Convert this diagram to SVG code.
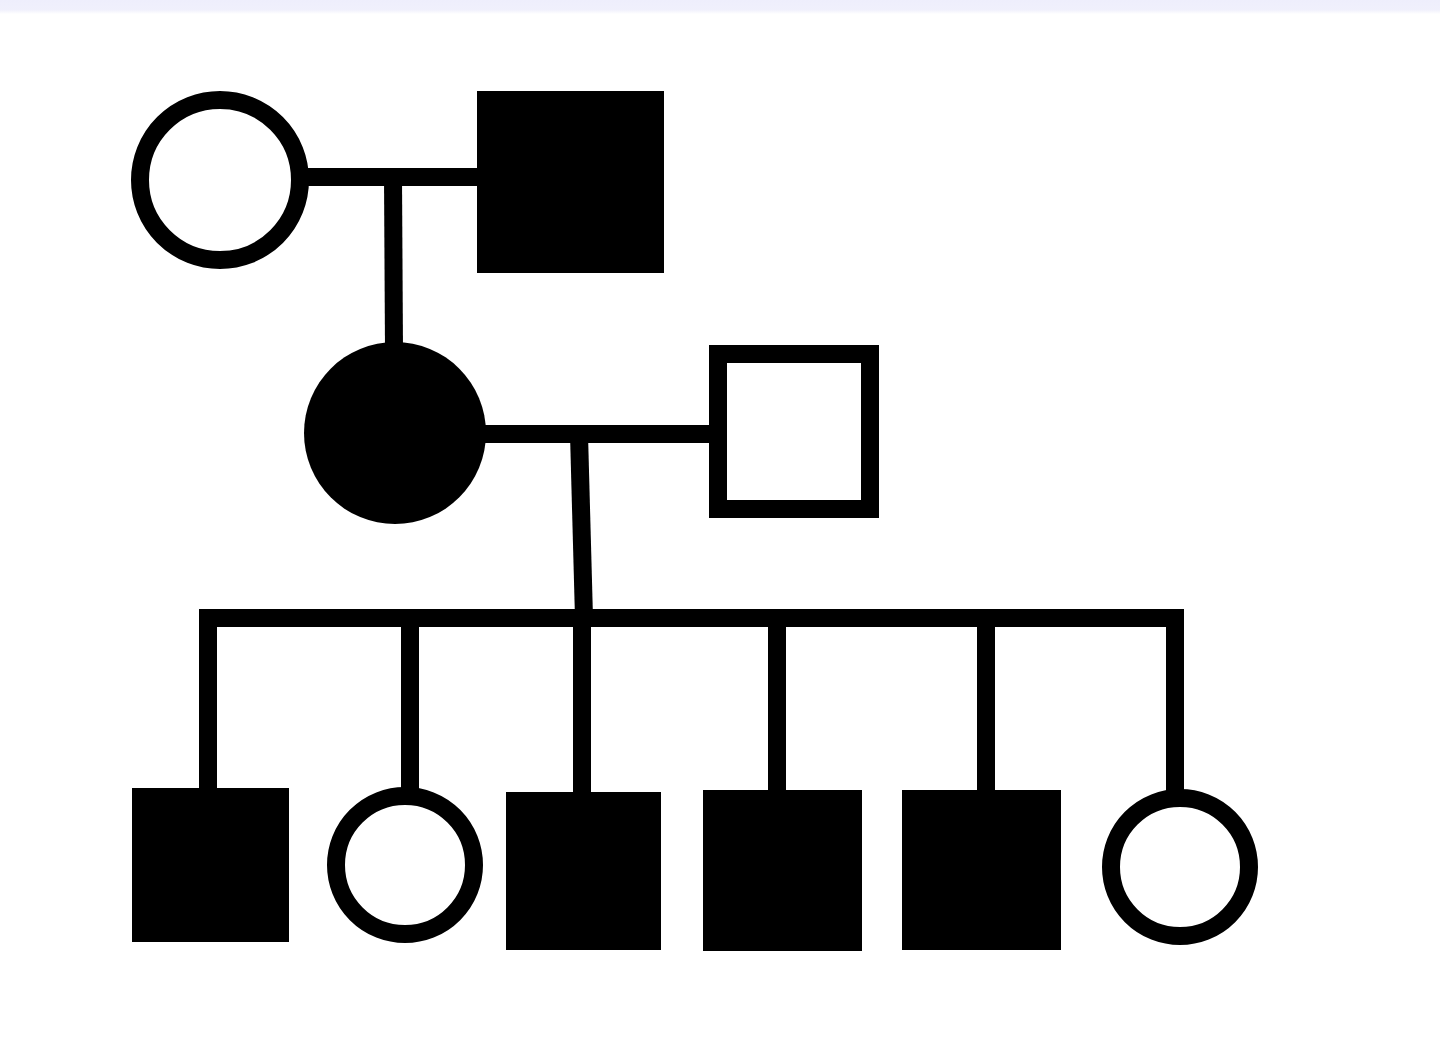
<svg xmlns="http://www.w3.org/2000/svg" width="1440" height="1054" viewBox="0 0 1440 1054">
<defs>
<linearGradient id="band" x1="0" y1="0" x2="0" y2="1">
<stop offset="0" stop-color="#eeeefc"/>
<stop offset="0.7" stop-color="#f0f0fc"/>
<stop offset="1" stop-color="#ffffff"/>
</linearGradient>
<style>
.ln{fill:none;stroke:#000;stroke-width:18;stroke-linejoin:miter;stroke-linecap:butt}
.open{fill:#fff;stroke:#000;stroke-width:18}
.aff{fill:#000;stroke:none}
</style>
</defs>
<rect x="0" y="0" width="1440" height="1054" fill="#fff"/>
<rect x="0" y="0" width="1440" height="14" fill="url(#band)"/>
<g id="connectors">
<line class="ln" x1="300" y1="177" x2="485" y2="177"/>
<line class="ln" x1="393" y1="177" x2="394" y2="350"/>
<line class="ln" x1="480" y1="434" x2="715" y2="434"/>
<line class="ln" x1="579" y1="434" x2="584" y2="618"/>
<path class="ln" d="M208,792 V618 H1175 V792"/>
<line class="ln" x1="410" y1="618" x2="410" y2="792"/>
<line class="ln" x1="582" y1="618" x2="582" y2="795"/>
<line class="ln" x1="777" y1="618" x2="777" y2="794"/>
<line class="ln" x1="986" y1="618" x2="986" y2="794"/>
</g>
<g id="g1-mother"><circle class="open" cx="220" cy="180" r="80"/></g>
<g id="g1-father"><rect class="aff" x="477" y="91" width="187" height="182"/></g>
<g id="g2-daughter"><circle class="aff" cx="395" cy="433" r="91"/></g>
<g id="g2-husband"><rect class="open" x="718" y="354" width="152" height="155"/></g>
<g id="g3-son1"><rect class="aff" x="132" y="788" width="157" height="154"/></g>
<g id="g3-daughter1"><circle class="open" cx="405" cy="865" r="69"/></g>
<g id="g3-son2"><rect class="aff" x="506" y="792" width="155" height="158"/></g>
<g id="g3-son3"><rect class="aff" x="703" y="790" width="159" height="161"/></g>
<g id="g3-son4"><rect class="aff" x="902" y="790" width="159" height="160"/></g>
<g id="g3-daughter2"><circle class="open" cx="1180" cy="867" r="69"/></g>
</svg>
